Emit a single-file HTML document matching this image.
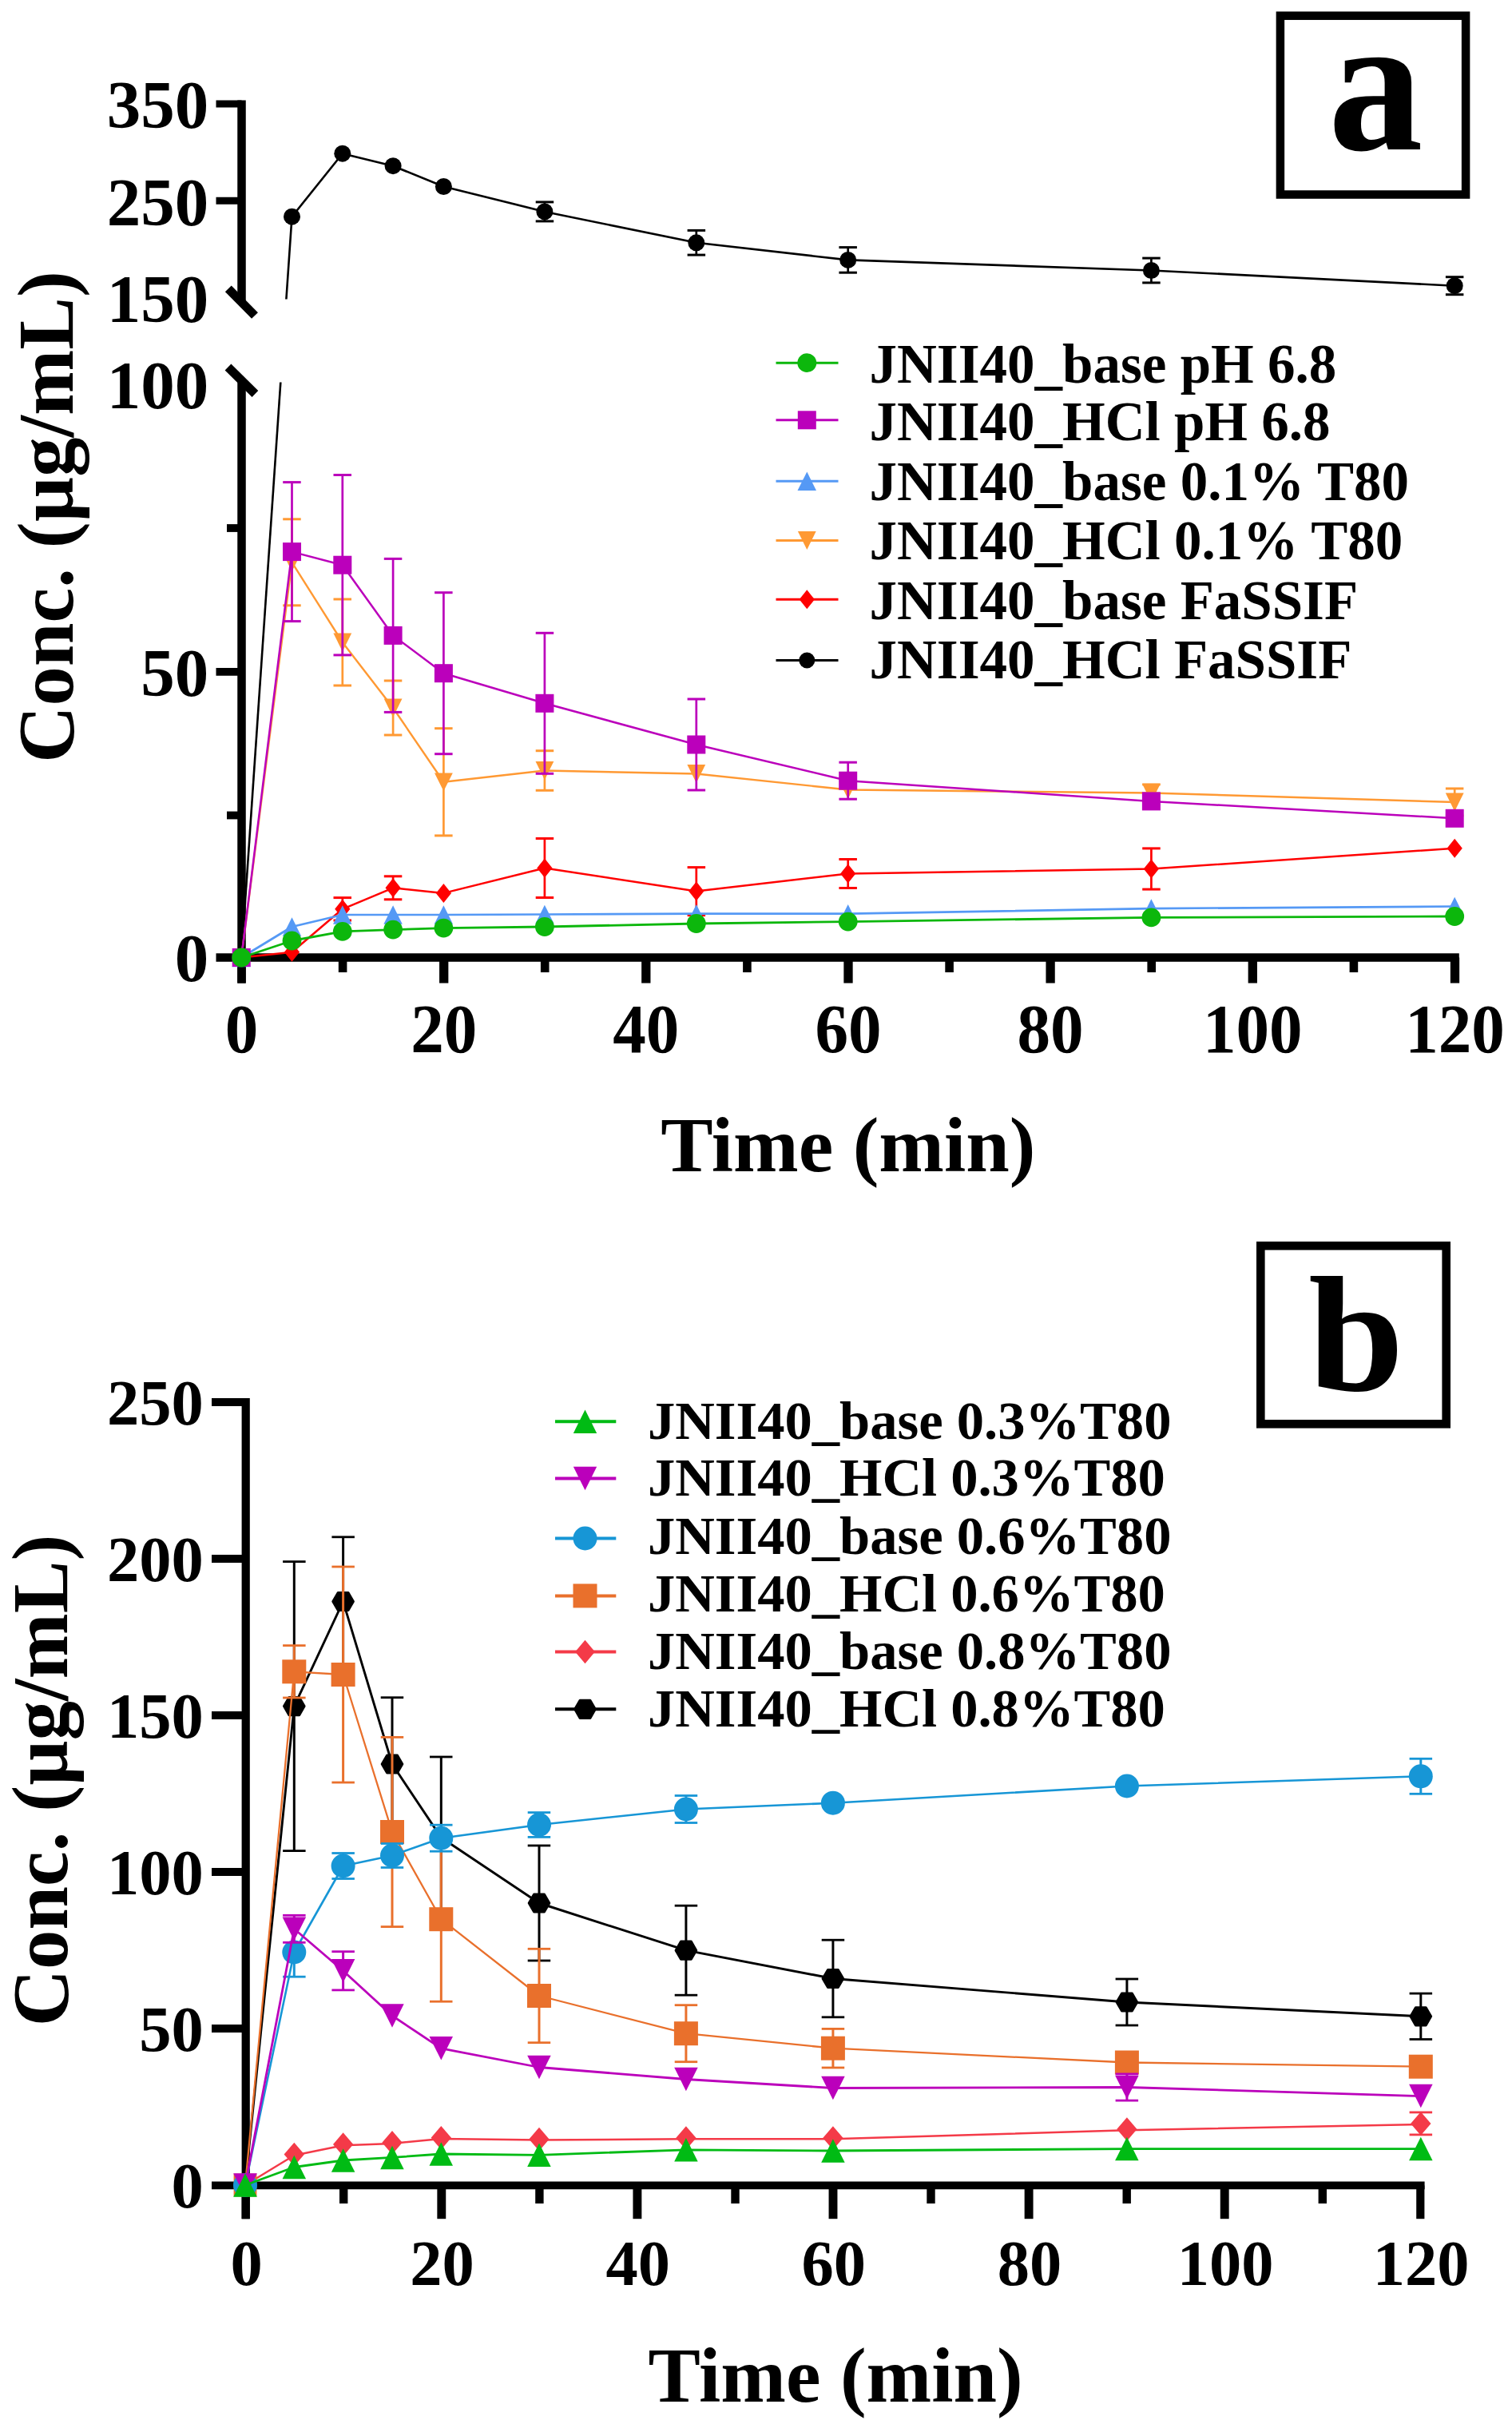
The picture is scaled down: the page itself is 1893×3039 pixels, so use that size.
<!DOCTYPE html>
<html lang="en"><head><meta charset="utf-8"><title>Dissolution profiles</title>
<style>html,body{margin:0;padding:0;background:#fff;overflow:hidden}svg{display:block}</style></head>
<body>
<svg width="1893" height="3039" viewBox="0 0 1893 3039">
<rect width="1893" height="3039" fill="#ffffff"/>
<g id="panelA-axes" stroke="#000" fill="none">
<line x1="302.5" y1="125.5" x2="302.5" y2="377.0" stroke="#000" stroke-width="10.5" />
<line x1="302.5" y1="478.0" x2="302.5" y2="1230.5" stroke="#000" stroke-width="10.5" />
<line x1="285.8" y1="361.3" x2="319.0" y2="395.0" stroke="#000" stroke-width="11" />
<line x1="285.5" y1="459.5" x2="319.4" y2="493.0" stroke="#000" stroke-width="11" />
<line x1="270.5" y1="1198.5" x2="1826.8" y2="1198.5" stroke="#000" stroke-width="10.5" />
<line x1="270.5" y1="130.0" x2="302.5" y2="130.0" stroke="#000" stroke-width="9" />
<line x1="270.5" y1="251.3" x2="302.5" y2="251.3" stroke="#000" stroke-width="9" />
<line x1="270.5" y1="840.8" x2="302.5" y2="840.8" stroke="#000" stroke-width="9.8" />
<line x1="284.0" y1="661.0" x2="302.5" y2="661.0" stroke="#000" stroke-width="9.8" />
<line x1="284.0" y1="1020.5" x2="302.5" y2="1020.5" stroke="#000" stroke-width="9.8" />
<line x1="302.5" y1="1198.5" x2="302.5" y2="1230.5" stroke="#000" stroke-width="10.5" />
<line x1="429.1" y1="1198.5" x2="429.1" y2="1217.0" stroke="#000" stroke-width="10.6" />
<line x1="555.7" y1="1198.5" x2="555.7" y2="1230.5" stroke="#000" stroke-width="11.3" />
<line x1="682.2" y1="1198.5" x2="682.2" y2="1217.0" stroke="#000" stroke-width="10.6" />
<line x1="808.8" y1="1198.5" x2="808.8" y2="1230.5" stroke="#000" stroke-width="11.3" />
<line x1="935.4" y1="1198.5" x2="935.4" y2="1217.0" stroke="#000" stroke-width="10.6" />
<line x1="1062.0" y1="1198.5" x2="1062.0" y2="1230.5" stroke="#000" stroke-width="11.3" />
<line x1="1188.6" y1="1198.5" x2="1188.6" y2="1217.0" stroke="#000" stroke-width="10.6" />
<line x1="1315.1" y1="1198.5" x2="1315.1" y2="1230.5" stroke="#000" stroke-width="11.3" />
<line x1="1441.7" y1="1198.5" x2="1441.7" y2="1217.0" stroke="#000" stroke-width="10.6" />
<line x1="1568.3" y1="1198.5" x2="1568.3" y2="1230.5" stroke="#000" stroke-width="11.3" />
<line x1="1694.9" y1="1198.5" x2="1694.9" y2="1217.0" stroke="#000" stroke-width="10.6" />
<line x1="1821.5" y1="1198.5" x2="1821.5" y2="1230.5" stroke="#000" stroke-width="11.3" />
</g>
<g id="panelA-data">
<polyline points="302.2,1198.5 351.3,478.5" fill="none" stroke="#000000" stroke-width="2.6" stroke-linejoin="round"/>
<polyline points="358.4,374.5 365.5,271.2 428.8,192.2 492.1,207.7 555.4,233.5 681.9,264.9 871.8,303.8 1061.7,325.4 1441.4,338.5 1821.2,357.7" fill="none" stroke="#000000" stroke-width="2.6" stroke-linejoin="round"/>
<line x1="681.9" y1="252.9" x2="681.9" y2="276.9" stroke="#000000" stroke-width="2.7" />
<line x1="670.7" y1="252.9" x2="693.2" y2="252.9" stroke="#000000" stroke-width="3.0" />
<line x1="670.7" y1="276.9" x2="693.2" y2="276.9" stroke="#000000" stroke-width="3.0" />
<line x1="871.8" y1="288.4" x2="871.8" y2="319.1" stroke="#000000" stroke-width="2.7" />
<line x1="860.6" y1="288.4" x2="883.1" y2="288.4" stroke="#000000" stroke-width="3.0" />
<line x1="860.6" y1="319.1" x2="883.1" y2="319.1" stroke="#000000" stroke-width="3.0" />
<line x1="1061.7" y1="309.6" x2="1061.7" y2="341.2" stroke="#000000" stroke-width="2.7" />
<line x1="1050.4" y1="309.6" x2="1072.9" y2="309.6" stroke="#000000" stroke-width="3.0" />
<line x1="1050.4" y1="341.2" x2="1072.9" y2="341.2" stroke="#000000" stroke-width="3.0" />
<line x1="1441.4" y1="323.1" x2="1441.4" y2="353.9" stroke="#000000" stroke-width="2.7" />
<line x1="1430.2" y1="323.1" x2="1452.7" y2="323.1" stroke="#000000" stroke-width="3.0" />
<line x1="1430.2" y1="353.9" x2="1452.7" y2="353.9" stroke="#000000" stroke-width="3.0" />
<line x1="1821.2" y1="346.7" x2="1821.2" y2="368.7" stroke="#000000" stroke-width="2.7" />
<line x1="1809.9" y1="346.7" x2="1832.4" y2="346.7" stroke="#000000" stroke-width="3.0" />
<line x1="1809.9" y1="368.7" x2="1832.4" y2="368.7" stroke="#000000" stroke-width="3.0" />
<circle cx="302.2" cy="1198.5" r="10.5" fill="#000000"/>
<circle cx="365.5" cy="271.2" r="10.5" fill="#000000"/>
<circle cx="428.8" cy="192.2" r="10.5" fill="#000000"/>
<circle cx="492.1" cy="207.7" r="10.5" fill="#000000"/>
<circle cx="555.4" cy="233.5" r="10.5" fill="#000000"/>
<circle cx="681.9" cy="264.9" r="10.5" fill="#000000"/>
<circle cx="871.8" cy="303.8" r="10.5" fill="#000000"/>
<circle cx="1061.7" cy="325.4" r="10.5" fill="#000000"/>
<circle cx="1441.4" cy="338.5" r="10.5" fill="#000000"/>
<circle cx="1821.2" cy="357.7" r="10.5" fill="#000000"/>
<polyline points="302.2,1198.5 365.5,1191.7 428.8,1137.8 492.1,1111.3 555.4,1117.9 681.9,1086.5 871.8,1115.6 1061.7,1093.5 1441.4,1087.5 1821.2,1061.7" fill="none" stroke="#FF0000" stroke-width="2.5" stroke-linejoin="round"/>
<line x1="428.8" y1="1123.6" x2="428.8" y2="1152.0" stroke="#FF0000" stroke-width="2.7" />
<line x1="417.5" y1="1123.6" x2="440.0" y2="1123.6" stroke="#FF0000" stroke-width="3.0" />
<line x1="417.5" y1="1152.0" x2="440.0" y2="1152.0" stroke="#FF0000" stroke-width="3.0" />
<line x1="492.1" y1="1096.8" x2="492.1" y2="1125.8" stroke="#FF0000" stroke-width="2.7" />
<line x1="480.8" y1="1096.8" x2="503.3" y2="1096.8" stroke="#FF0000" stroke-width="3.0" />
<line x1="480.8" y1="1125.8" x2="503.3" y2="1125.8" stroke="#FF0000" stroke-width="3.0" />
<line x1="681.9" y1="1049.5" x2="681.9" y2="1123.5" stroke="#FF0000" stroke-width="2.7" />
<line x1="670.7" y1="1049.5" x2="693.2" y2="1049.5" stroke="#FF0000" stroke-width="3.0" />
<line x1="670.7" y1="1123.5" x2="693.2" y2="1123.5" stroke="#FF0000" stroke-width="3.0" />
<line x1="871.8" y1="1085.6" x2="871.8" y2="1145.6" stroke="#FF0000" stroke-width="2.7" />
<line x1="860.6" y1="1085.6" x2="883.1" y2="1085.6" stroke="#FF0000" stroke-width="3.0" />
<line x1="860.6" y1="1145.6" x2="883.1" y2="1145.6" stroke="#FF0000" stroke-width="3.0" />
<line x1="1061.7" y1="1075.5" x2="1061.7" y2="1111.5" stroke="#FF0000" stroke-width="2.7" />
<line x1="1050.4" y1="1075.5" x2="1072.9" y2="1075.5" stroke="#FF0000" stroke-width="3.0" />
<line x1="1050.4" y1="1111.5" x2="1072.9" y2="1111.5" stroke="#FF0000" stroke-width="3.0" />
<line x1="1441.4" y1="1061.9" x2="1441.4" y2="1113.1" stroke="#FF0000" stroke-width="2.7" />
<line x1="1430.2" y1="1061.9" x2="1452.7" y2="1061.9" stroke="#FF0000" stroke-width="3.0" />
<line x1="1430.2" y1="1113.1" x2="1452.7" y2="1113.1" stroke="#FF0000" stroke-width="3.0" />
<polygon points="302.2,1186.5 311.8,1198.5 302.2,1210.5 292.6,1198.5" fill="#FF0000"/>
<polygon points="365.5,1179.7 375.1,1191.7 365.5,1203.7 355.9,1191.7" fill="#FF0000"/>
<polygon points="428.8,1125.8 438.4,1137.8 428.8,1149.8 419.2,1137.8" fill="#FF0000"/>
<polygon points="492.1,1099.3 501.7,1111.3 492.1,1123.3 482.5,1111.3" fill="#FF0000"/>
<polygon points="555.4,1105.9 565.0,1117.9 555.4,1129.9 545.8,1117.9" fill="#FF0000"/>
<polygon points="681.9,1074.5 691.5,1086.5 681.9,1098.5 672.3,1086.5" fill="#FF0000"/>
<polygon points="871.8,1103.6 881.4,1115.6 871.8,1127.6 862.2,1115.6" fill="#FF0000"/>
<polygon points="1061.7,1081.5 1071.3,1093.5 1061.7,1105.5 1052.1,1093.5" fill="#FF0000"/>
<polygon points="1441.4,1075.5 1451.0,1087.5 1441.4,1099.5 1431.8,1087.5" fill="#FF0000"/>
<polygon points="1821.2,1049.7 1830.8,1061.7 1821.2,1073.7 1811.6,1061.7" fill="#FF0000"/>
<polyline points="302.2,1198.5 365.5,703.8 428.8,804.0 492.1,886.0 555.4,978.8 681.9,964.5 871.8,968.5 1061.7,988.5 1441.4,992.5 1821.2,1004.0" fill="none" stroke="#FF9933" stroke-width="2.4" stroke-linejoin="round"/>
<line x1="365.5" y1="649.8" x2="365.5" y2="757.8" stroke="#FF9933" stroke-width="2.7" />
<line x1="354.2" y1="649.8" x2="376.7" y2="649.8" stroke="#FF9933" stroke-width="3.0" />
<line x1="354.2" y1="757.8" x2="376.7" y2="757.8" stroke="#FF9933" stroke-width="3.0" />
<line x1="428.8" y1="750.0" x2="428.8" y2="858.0" stroke="#FF9933" stroke-width="2.7" />
<line x1="417.5" y1="750.0" x2="440.0" y2="750.0" stroke="#FF9933" stroke-width="3.0" />
<line x1="417.5" y1="858.0" x2="440.0" y2="858.0" stroke="#FF9933" stroke-width="3.0" />
<line x1="492.1" y1="852.0" x2="492.1" y2="920.0" stroke="#FF9933" stroke-width="2.7" />
<line x1="480.8" y1="852.0" x2="503.3" y2="852.0" stroke="#FF9933" stroke-width="3.0" />
<line x1="480.8" y1="920.0" x2="503.3" y2="920.0" stroke="#FF9933" stroke-width="3.0" />
<line x1="555.4" y1="911.7" x2="555.4" y2="1045.9" stroke="#FF9933" stroke-width="2.7" />
<line x1="544.1" y1="911.7" x2="566.6" y2="911.7" stroke="#FF9933" stroke-width="3.0" />
<line x1="544.1" y1="1045.9" x2="566.6" y2="1045.9" stroke="#FF9933" stroke-width="3.0" />
<line x1="681.9" y1="939.7" x2="681.9" y2="989.3" stroke="#FF9933" stroke-width="2.7" />
<line x1="670.7" y1="939.7" x2="693.2" y2="939.7" stroke="#FF9933" stroke-width="3.0" />
<line x1="670.7" y1="989.3" x2="693.2" y2="989.3" stroke="#FF9933" stroke-width="3.0" />
<line x1="1441.4" y1="981.9" x2="1441.4" y2="1003.1" stroke="#FF9933" stroke-width="2.7" />
<line x1="1430.2" y1="981.9" x2="1452.7" y2="981.9" stroke="#FF9933" stroke-width="3.0" />
<line x1="1430.2" y1="1003.1" x2="1452.7" y2="1003.1" stroke="#FF9933" stroke-width="3.0" />
<line x1="1821.2" y1="987.0" x2="1821.2" y2="1021.0" stroke="#FF9933" stroke-width="2.7" />
<line x1="1809.9" y1="987.0" x2="1832.4" y2="987.0" stroke="#FF9933" stroke-width="3.0" />
<line x1="1809.9" y1="1021.0" x2="1832.4" y2="1021.0" stroke="#FF9933" stroke-width="3.0" />
<polygon points="290.8,1187.1 313.6,1187.1 302.2,1209.9" fill="#FF9933"/>
<polygon points="354.1,692.4 376.9,692.4 365.5,715.2" fill="#FF9933"/>
<polygon points="417.4,792.6 440.2,792.6 428.8,815.4" fill="#FF9933"/>
<polygon points="480.7,874.6 503.5,874.6 492.1,897.4" fill="#FF9933"/>
<polygon points="544.0,967.4 566.8,967.4 555.4,990.2" fill="#FF9933"/>
<polygon points="670.5,953.1 693.3,953.1 681.9,975.9" fill="#FF9933"/>
<polygon points="860.4,957.1 883.2,957.1 871.8,979.9" fill="#FF9933"/>
<polygon points="1050.3,977.1 1073.1,977.1 1061.7,999.9" fill="#FF9933"/>
<polygon points="1430.0,981.1 1452.8,981.1 1441.4,1003.9" fill="#FF9933"/>
<polygon points="1809.8,992.6 1832.6,992.6 1821.2,1015.4" fill="#FF9933"/>
<polyline points="302.2,1198.5 365.5,1160.0 428.8,1145.0 492.1,1145.0 555.4,1145.0 681.9,1144.5 871.8,1143.7 1061.7,1143.7 1441.4,1137.1 1821.2,1134.5" fill="none" stroke="#5599F5" stroke-width="2.7" stroke-linejoin="round"/>
<polygon points="302.2,1186.8 313.9,1210.2 290.4,1210.2" fill="#5599F5"/>
<polygon points="365.5,1148.2 377.2,1171.8 353.7,1171.8" fill="#5599F5"/>
<polygon points="428.8,1133.2 440.5,1156.8 417.0,1156.8" fill="#5599F5"/>
<polygon points="492.1,1133.2 503.8,1156.8 480.3,1156.8" fill="#5599F5"/>
<polygon points="555.4,1133.2 567.1,1156.8 543.6,1156.8" fill="#5599F5"/>
<polygon points="681.9,1132.8 693.7,1156.2 670.2,1156.2" fill="#5599F5"/>
<polygon points="871.8,1132.0 883.6,1155.5 860.1,1155.5" fill="#5599F5"/>
<polygon points="1061.7,1132.0 1073.4,1155.5 1049.9,1155.5" fill="#5599F5"/>
<polygon points="1441.4,1125.3 1453.2,1148.8 1429.7,1148.8" fill="#5599F5"/>
<polygon points="1821.2,1122.8 1832.9,1146.2 1809.4,1146.2" fill="#5599F5"/>
<polyline points="302.2,1198.5 365.5,690.6 428.8,707.2 492.1,795.4 555.4,842.7 681.9,880.3 871.8,932.0 1061.7,977.2 1441.4,1002.9 1821.2,1024.3" fill="none" stroke="#BB00BB" stroke-width="2.5" stroke-linejoin="round"/>
<line x1="365.5" y1="603.6" x2="365.5" y2="777.6" stroke="#BB00BB" stroke-width="2.7" />
<line x1="354.2" y1="603.6" x2="376.7" y2="603.6" stroke="#BB00BB" stroke-width="3.0" />
<line x1="354.2" y1="777.6" x2="376.7" y2="777.6" stroke="#BB00BB" stroke-width="3.0" />
<line x1="428.8" y1="594.5" x2="428.8" y2="819.9" stroke="#BB00BB" stroke-width="2.7" />
<line x1="417.5" y1="594.5" x2="440.0" y2="594.5" stroke="#BB00BB" stroke-width="3.0" />
<line x1="417.5" y1="819.9" x2="440.0" y2="819.9" stroke="#BB00BB" stroke-width="3.0" />
<line x1="492.1" y1="699.4" x2="492.1" y2="891.4" stroke="#BB00BB" stroke-width="2.7" />
<line x1="480.8" y1="699.4" x2="503.3" y2="699.4" stroke="#BB00BB" stroke-width="3.0" />
<line x1="480.8" y1="891.4" x2="503.3" y2="891.4" stroke="#BB00BB" stroke-width="3.0" />
<line x1="555.4" y1="741.7" x2="555.4" y2="943.7" stroke="#BB00BB" stroke-width="2.7" />
<line x1="544.1" y1="741.7" x2="566.6" y2="741.7" stroke="#BB00BB" stroke-width="3.0" />
<line x1="544.1" y1="943.7" x2="566.6" y2="943.7" stroke="#BB00BB" stroke-width="3.0" />
<line x1="681.9" y1="792.3" x2="681.9" y2="968.3" stroke="#BB00BB" stroke-width="2.7" />
<line x1="670.7" y1="792.3" x2="693.2" y2="792.3" stroke="#BB00BB" stroke-width="3.0" />
<line x1="670.7" y1="968.3" x2="693.2" y2="968.3" stroke="#BB00BB" stroke-width="3.0" />
<line x1="871.8" y1="875.0" x2="871.8" y2="989.0" stroke="#BB00BB" stroke-width="2.7" />
<line x1="860.6" y1="875.0" x2="883.1" y2="875.0" stroke="#BB00BB" stroke-width="3.0" />
<line x1="860.6" y1="989.0" x2="883.1" y2="989.0" stroke="#BB00BB" stroke-width="3.0" />
<line x1="1061.7" y1="954.2" x2="1061.7" y2="1000.2" stroke="#BB00BB" stroke-width="2.7" />
<line x1="1050.4" y1="954.2" x2="1072.9" y2="954.2" stroke="#BB00BB" stroke-width="3.0" />
<line x1="1050.4" y1="1000.2" x2="1072.9" y2="1000.2" stroke="#BB00BB" stroke-width="3.0" />
<rect x="290.7" y="1187.0" width="23.0" height="23.0" fill="#BB00BB"/>
<rect x="354.0" y="679.1" width="23.0" height="23.0" fill="#BB00BB"/>
<rect x="417.3" y="695.7" width="23.0" height="23.0" fill="#BB00BB"/>
<rect x="480.6" y="783.9" width="23.0" height="23.0" fill="#BB00BB"/>
<rect x="543.9" y="831.2" width="23.0" height="23.0" fill="#BB00BB"/>
<rect x="670.4" y="868.8" width="23.0" height="23.0" fill="#BB00BB"/>
<rect x="860.3" y="920.5" width="23.0" height="23.0" fill="#BB00BB"/>
<rect x="1050.2" y="965.7" width="23.0" height="23.0" fill="#BB00BB"/>
<rect x="1429.9" y="991.4" width="23.0" height="23.0" fill="#BB00BB"/>
<rect x="1809.7" y="1012.8" width="23.0" height="23.0" fill="#BB00BB"/>
<polyline points="302.2,1198.5 365.5,1177.5 428.8,1165.9 492.1,1163.6 555.4,1161.6 681.9,1160.0 871.8,1156.0 1061.7,1153.6 1441.4,1148.4 1821.2,1147.0" fill="none" stroke="#0CB70C" stroke-width="2.8" stroke-linejoin="round"/>
<circle cx="302.2" cy="1198.5" r="11.9" fill="#0CB70C"/>
<circle cx="365.5" cy="1177.5" r="11.9" fill="#0CB70C"/>
<circle cx="428.8" cy="1165.9" r="11.9" fill="#0CB70C"/>
<circle cx="492.1" cy="1163.6" r="11.9" fill="#0CB70C"/>
<circle cx="555.4" cy="1161.6" r="11.9" fill="#0CB70C"/>
<circle cx="681.9" cy="1160.0" r="11.9" fill="#0CB70C"/>
<circle cx="871.8" cy="1156.0" r="11.9" fill="#0CB70C"/>
<circle cx="1061.7" cy="1153.6" r="11.9" fill="#0CB70C"/>
<circle cx="1441.4" cy="1148.4" r="11.9" fill="#0CB70C"/>
<circle cx="1821.2" cy="1147.0" r="11.9" fill="#0CB70C"/>
</g>
<g id="panelA-labels" fill="#000">
<text x="261.3" y="160.3" font-size="85" text-anchor="end" font-family="'Liberation Serif','Times New Roman',Times,serif" font-weight="bold" >350</text>
<text x="261.3" y="281.6" font-size="85" text-anchor="end" font-family="'Liberation Serif','Times New Roman',Times,serif" font-weight="bold" >250</text>
<text x="261.3" y="403.1" font-size="85" text-anchor="end" font-family="'Liberation Serif','Times New Roman',Times,serif" font-weight="bold" >150</text>
<text x="261.3" y="511.3" font-size="85" text-anchor="end" font-family="'Liberation Serif','Times New Roman',Times,serif" font-weight="bold" >100</text>
<text x="261.3" y="871.3" font-size="85" text-anchor="end" font-family="'Liberation Serif','Times New Roman',Times,serif" font-weight="bold" >50</text>
<text x="261.3" y="1228.3" font-size="85" text-anchor="end" font-family="'Liberation Serif','Times New Roman',Times,serif" font-weight="bold" >0</text>
<text transform="translate(302.5,1317) scale(0.978,1.01)" font-size="85" text-anchor="middle" font-family="'Liberation Serif','Times New Roman',Times,serif" font-weight="bold">0</text>
<text transform="translate(555.7,1317) scale(0.978,1.01)" font-size="85" text-anchor="middle" font-family="'Liberation Serif','Times New Roman',Times,serif" font-weight="bold">20</text>
<text transform="translate(808.8,1317) scale(0.978,1.01)" font-size="85" text-anchor="middle" font-family="'Liberation Serif','Times New Roman',Times,serif" font-weight="bold">40</text>
<text transform="translate(1062.0,1317) scale(0.978,1.01)" font-size="85" text-anchor="middle" font-family="'Liberation Serif','Times New Roman',Times,serif" font-weight="bold">60</text>
<text transform="translate(1315.1,1317) scale(0.978,1.01)" font-size="85" text-anchor="middle" font-family="'Liberation Serif','Times New Roman',Times,serif" font-weight="bold">80</text>
<text transform="translate(1568.3,1317) scale(0.978,1.01)" font-size="85" text-anchor="middle" font-family="'Liberation Serif','Times New Roman',Times,serif" font-weight="bold">100</text>
<text transform="translate(1821.5,1317) scale(0.978,1.01)" font-size="85" text-anchor="middle" font-family="'Liberation Serif','Times New Roman',Times,serif" font-weight="bold">120</text>
<text x="1061.8" y="1466.2" font-size="98" text-anchor="middle" font-family="'Liberation Serif','Times New Roman',Times,serif" font-weight="bold" >Time (min)</text>
<text transform="translate(90.5,647) rotate(-90)" font-size="98.6" text-anchor="middle" font-family="'Liberation Serif','Times New Roman',Times,serif" font-weight="bold">Conc. (µg/mL)</text>
</g>
<g id="panelA-legend">
<line x1="971.5" y1="454.2" x2="1049.5" y2="454.2" stroke="#0CB70C" stroke-width="3" />
<circle cx="1010.3" cy="454.2" r="11.9" fill="#0CB70C"/>
<text x="1088.5" y="479.4" font-size="69" text-anchor="start" font-family="'Liberation Serif','Times New Roman',Times,serif" font-weight="bold" fill="#000">JNII40_base pH 6.8</text>
<line x1="971.5" y1="525.8" x2="1049.5" y2="525.8" stroke="#BB00BB" stroke-width="3" />
<rect x="998.8" y="514.3" width="23.0" height="23.0" fill="#BB00BB"/>
<text x="1088.5" y="550.8" font-size="69" text-anchor="start" font-family="'Liberation Serif','Times New Roman',Times,serif" font-weight="bold" fill="#000">JNII40_HCl pH 6.8</text>
<line x1="971.5" y1="602.3" x2="1049.5" y2="602.3" stroke="#5599F5" stroke-width="3" />
<polygon points="1010.3,590.5 1022.0,614.0 998.5,614.0" fill="#5599F5"/>
<text x="1088.5" y="626.2" font-size="69" text-anchor="start" font-family="'Liberation Serif','Times New Roman',Times,serif" font-weight="bold" fill="#000">JNII40_base 0.1% T80</text>
<line x1="971.5" y1="676.5" x2="1049.5" y2="676.5" stroke="#FF9933" stroke-width="3" />
<polygon points="998.9,665.1 1021.7,665.1 1010.3,687.9" fill="#FF9933"/>
<text x="1088.5" y="700.3" font-size="69" text-anchor="start" font-family="'Liberation Serif','Times New Roman',Times,serif" font-weight="bold" fill="#000">JNII40_HCl 0.1% T80</text>
<line x1="971.5" y1="750.3" x2="1049.5" y2="750.3" stroke="#FF0000" stroke-width="3" />
<polygon points="1010.3,738.3 1019.9,750.3 1010.3,762.3 1000.7,750.3" fill="#FF0000"/>
<text x="1088.5" y="774.5" font-size="69" text-anchor="start" font-family="'Liberation Serif','Times New Roman',Times,serif" font-weight="bold" fill="#000">JNII40_base FaSSIF</text>
<line x1="971.5" y1="826.5" x2="1049.5" y2="826.5" stroke="#000000" stroke-width="3" />
<circle cx="1010.3" cy="826.5" r="10.0" fill="#000000"/>
<text x="1088.5" y="848.5" font-size="69" text-anchor="start" font-family="'Liberation Serif','Times New Roman',Times,serif" font-weight="bold" fill="#000">JNII40_HCl FaSSIF</text>
</g>
<rect x="1602.9" y="19.7" width="232.2" height="223.8" fill="none" stroke="#000" stroke-width="10.5"/>
<text transform="translate(1663.1,186.7) scale(0.979,1.0166)" font-size="242" font-family="'Liberation Serif','Times New Roman',Times,serif" font-weight="bold" fill="#000">a</text>
<g id="panelB-axes">
<line x1="307.7" y1="1750.0" x2="307.7" y2="2777.2" stroke="#000" stroke-width="10.2" />
<line x1="265.0" y1="2735.4" x2="1783.6" y2="2735.4" stroke="#000" stroke-width="9.9" />
<line x1="265.0" y1="1755.0" x2="307.7" y2="1755.0" stroke="#000" stroke-width="10" />
<line x1="265.0" y1="1951.0" x2="307.7" y2="1951.0" stroke="#000" stroke-width="10" />
<line x1="265.0" y1="2147.0" x2="307.7" y2="2147.0" stroke="#000" stroke-width="10" />
<line x1="265.0" y1="2343.0" x2="307.7" y2="2343.0" stroke="#000" stroke-width="10" />
<line x1="265.0" y1="2539.0" x2="307.7" y2="2539.0" stroke="#000" stroke-width="10" />
<line x1="307.7" y1="2735.4" x2="307.7" y2="2777.2" stroke="#000" stroke-width="10.2" />
<line x1="430.2" y1="2735.4" x2="430.2" y2="2758.0" stroke="#000" stroke-width="10.4" />
<line x1="552.8" y1="2735.4" x2="552.8" y2="2777.2" stroke="#000" stroke-width="10.9" />
<line x1="675.4" y1="2735.4" x2="675.4" y2="2758.0" stroke="#000" stroke-width="10.4" />
<line x1="797.9" y1="2735.4" x2="797.9" y2="2777.2" stroke="#000" stroke-width="10.9" />
<line x1="920.5" y1="2735.4" x2="920.5" y2="2758.0" stroke="#000" stroke-width="10.4" />
<line x1="1043.0" y1="2735.4" x2="1043.0" y2="2777.2" stroke="#000" stroke-width="10.9" />
<line x1="1165.5" y1="2735.4" x2="1165.5" y2="2758.0" stroke="#000" stroke-width="10.4" />
<line x1="1288.1" y1="2735.4" x2="1288.1" y2="2777.2" stroke="#000" stroke-width="10.9" />
<line x1="1410.7" y1="2735.4" x2="1410.7" y2="2758.0" stroke="#000" stroke-width="10.4" />
<line x1="1533.2" y1="2735.4" x2="1533.2" y2="2777.2" stroke="#000" stroke-width="10.9" />
<line x1="1655.8" y1="2735.4" x2="1655.8" y2="2758.0" stroke="#000" stroke-width="10.4" />
<line x1="1778.3" y1="2735.4" x2="1778.3" y2="2777.2" stroke="#000" stroke-width="10.2" />
</g>
<g id="panelB-data">
<polyline points="307.0,2735.0 368.3,2135.6 429.6,2004.5 491.0,2208.0 552.3,2300.0 675.0,2382.0 858.9,2441.2 1042.9,2476.5 1410.9,2506.0 1778.8,2523.8" fill="none" stroke="#000000" stroke-width="2.9" stroke-linejoin="round"/>
<line x1="368.3" y1="1954.6" x2="368.3" y2="2316.6" stroke="#000000" stroke-width="3.0" />
<line x1="354.1" y1="1954.6" x2="382.6" y2="1954.6" stroke="#000000" stroke-width="2.8" />
<line x1="354.1" y1="2316.6" x2="382.6" y2="2316.6" stroke="#000000" stroke-width="2.8" />
<line x1="429.6" y1="1923.8" x2="429.6" y2="2085.2" stroke="#000000" stroke-width="3.0" />
<line x1="415.4" y1="1923.8" x2="443.9" y2="1923.8" stroke="#000000" stroke-width="2.8" />
<line x1="415.4" y1="2085.2" x2="443.9" y2="2085.2" stroke="#000000" stroke-width="2.8" />
<line x1="491.0" y1="2124.7" x2="491.0" y2="2291.3" stroke="#000000" stroke-width="3.0" />
<line x1="476.7" y1="2124.7" x2="505.2" y2="2124.7" stroke="#000000" stroke-width="2.8" />
<line x1="476.7" y1="2291.3" x2="505.2" y2="2291.3" stroke="#000000" stroke-width="2.8" />
<line x1="552.3" y1="2199.0" x2="552.3" y2="2401.0" stroke="#000000" stroke-width="3.0" />
<line x1="538.0" y1="2199.0" x2="566.5" y2="2199.0" stroke="#000000" stroke-width="2.8" />
<line x1="538.0" y1="2401.0" x2="566.5" y2="2401.0" stroke="#000000" stroke-width="2.8" />
<line x1="675.0" y1="2310.0" x2="675.0" y2="2454.0" stroke="#000000" stroke-width="3.0" />
<line x1="660.7" y1="2310.0" x2="689.2" y2="2310.0" stroke="#000000" stroke-width="2.8" />
<line x1="660.7" y1="2454.0" x2="689.2" y2="2454.0" stroke="#000000" stroke-width="2.8" />
<line x1="858.9" y1="2385.2" x2="858.9" y2="2497.2" stroke="#000000" stroke-width="3.0" />
<line x1="844.7" y1="2385.2" x2="873.2" y2="2385.2" stroke="#000000" stroke-width="2.8" />
<line x1="844.7" y1="2497.2" x2="873.2" y2="2497.2" stroke="#000000" stroke-width="2.8" />
<line x1="1042.9" y1="2428.2" x2="1042.9" y2="2524.8" stroke="#000000" stroke-width="3.0" />
<line x1="1028.7" y1="2428.2" x2="1057.2" y2="2428.2" stroke="#000000" stroke-width="2.8" />
<line x1="1028.7" y1="2524.8" x2="1057.2" y2="2524.8" stroke="#000000" stroke-width="2.8" />
<line x1="1410.9" y1="2477.0" x2="1410.9" y2="2535.0" stroke="#000000" stroke-width="3.0" />
<line x1="1396.6" y1="2477.0" x2="1425.1" y2="2477.0" stroke="#000000" stroke-width="2.8" />
<line x1="1396.6" y1="2535.0" x2="1425.1" y2="2535.0" stroke="#000000" stroke-width="2.8" />
<line x1="1778.8" y1="2495.1" x2="1778.8" y2="2552.5" stroke="#000000" stroke-width="3.0" />
<line x1="1764.6" y1="2495.1" x2="1793.1" y2="2495.1" stroke="#000000" stroke-width="2.8" />
<line x1="1764.6" y1="2552.5" x2="1793.1" y2="2552.5" stroke="#000000" stroke-width="2.8" />
<polygon points="294.2,2735.0 300.6,2723.9 313.4,2723.9 319.8,2735.0 313.4,2746.1 300.6,2746.1" fill="#000000" stroke="#000000" stroke-width="3" stroke-linejoin="round"/>
<polygon points="355.5,2135.6 361.9,2124.5 374.7,2124.5 381.1,2135.6 374.7,2146.7 361.9,2146.7" fill="#000000" stroke="#000000" stroke-width="3" stroke-linejoin="round"/>
<polygon points="416.8,2004.5 423.2,1993.4 436.0,1993.4 442.4,2004.5 436.0,2015.6 423.2,2015.6" fill="#000000" stroke="#000000" stroke-width="3" stroke-linejoin="round"/>
<polygon points="478.2,2208.0 484.6,2196.9 497.4,2196.9 503.8,2208.0 497.4,2219.1 484.6,2219.1" fill="#000000" stroke="#000000" stroke-width="3" stroke-linejoin="round"/>
<polygon points="539.5,2300.0 545.9,2288.9 558.7,2288.9 565.1,2300.0 558.7,2311.1 545.9,2311.1" fill="#000000" stroke="#000000" stroke-width="3" stroke-linejoin="round"/>
<polygon points="662.2,2382.0 668.6,2370.9 681.4,2370.9 687.8,2382.0 681.4,2393.1 668.6,2393.1" fill="#000000" stroke="#000000" stroke-width="3" stroke-linejoin="round"/>
<polygon points="846.1,2441.2 852.5,2430.1 865.3,2430.1 871.7,2441.2 865.3,2452.3 852.5,2452.3" fill="#000000" stroke="#000000" stroke-width="3" stroke-linejoin="round"/>
<polygon points="1030.1,2476.5 1036.5,2465.4 1049.3,2465.4 1055.7,2476.5 1049.3,2487.6 1036.5,2487.6" fill="#000000" stroke="#000000" stroke-width="3" stroke-linejoin="round"/>
<polygon points="1398.1,2506.0 1404.5,2494.9 1417.3,2494.9 1423.7,2506.0 1417.3,2517.1 1404.5,2517.1" fill="#000000" stroke="#000000" stroke-width="3" stroke-linejoin="round"/>
<polygon points="1766.0,2523.8 1772.4,2512.7 1785.2,2512.7 1791.6,2523.8 1785.2,2534.9 1772.4,2534.9" fill="#000000" stroke="#000000" stroke-width="3" stroke-linejoin="round"/>
<polyline points="307.0,2735.0 368.3,2697.8 429.6,2685.2 491.0,2682.9 552.3,2677.0 675.0,2678.6 858.9,2677.3 1042.9,2677.3 1410.9,2666.2 1778.8,2659.1" fill="none" stroke="#F43A48" stroke-width="2.5" stroke-linejoin="round"/>
<line x1="1778.8" y1="2643.9" x2="1778.8" y2="2671.9" stroke="#F43A48" stroke-width="3.0" />
<line x1="1764.6" y1="2643.9" x2="1793.1" y2="2643.9" stroke="#F43A48" stroke-width="2.8" />
<line x1="1764.6" y1="2671.9" x2="1793.1" y2="2671.9" stroke="#F43A48" stroke-width="2.8" />
<polygon points="307.0,2720.2 319.7,2735.0 307.0,2749.8 294.3,2735.0" fill="#F43A48"/>
<polygon points="368.3,2681.8 381.0,2696.6 368.3,2711.3 355.6,2696.6" fill="#F43A48"/>
<polygon points="429.6,2669.2 442.3,2684.0 429.6,2698.8 417.0,2684.0" fill="#F43A48"/>
<polygon points="491.0,2666.9 503.7,2681.7 491.0,2696.4 478.3,2681.7" fill="#F43A48"/>
<polygon points="552.3,2661.1 565.0,2675.8 552.3,2690.6 539.6,2675.8" fill="#F43A48"/>
<polygon points="675.0,2662.7 687.6,2677.4 675.0,2692.2 662.3,2677.4" fill="#F43A48"/>
<polygon points="858.9,2661.3 871.6,2676.1 858.9,2690.8 846.2,2676.1" fill="#F43A48"/>
<polygon points="1042.9,2661.3 1055.6,2676.1 1042.9,2690.8 1030.2,2676.1" fill="#F43A48"/>
<polygon points="1410.9,2650.2 1423.5,2665.0 1410.9,2679.8 1398.2,2665.0" fill="#F43A48"/>
<polygon points="1778.8,2643.2 1791.5,2657.9 1778.8,2672.7 1766.1,2657.9" fill="#F43A48"/>
<polyline points="307.0,2735.0 368.3,2092.3 429.6,2096.0 491.0,2293.0 552.3,2402.2 675.0,2498.0 858.9,2545.2 1042.9,2563.7 1410.9,2581.5 1778.8,2586.7" fill="none" stroke="#E9702C" stroke-width="2.3" stroke-linejoin="round"/>
<line x1="368.3" y1="2059.6" x2="368.3" y2="2125.0" stroke="#E9702C" stroke-width="3.0" />
<line x1="354.1" y1="2059.6" x2="382.6" y2="2059.6" stroke="#E9702C" stroke-width="2.8" />
<line x1="354.1" y1="2125.0" x2="382.6" y2="2125.0" stroke="#E9702C" stroke-width="2.8" />
<line x1="429.6" y1="1961.0" x2="429.6" y2="2231.0" stroke="#E9702C" stroke-width="3.0" />
<line x1="415.4" y1="1961.0" x2="443.9" y2="1961.0" stroke="#E9702C" stroke-width="2.8" />
<line x1="415.4" y1="2231.0" x2="443.9" y2="2231.0" stroke="#E9702C" stroke-width="2.8" />
<line x1="491.0" y1="2174.4" x2="491.0" y2="2411.6" stroke="#E9702C" stroke-width="3.0" />
<line x1="476.7" y1="2174.4" x2="505.2" y2="2174.4" stroke="#E9702C" stroke-width="2.8" />
<line x1="476.7" y1="2411.6" x2="505.2" y2="2411.6" stroke="#E9702C" stroke-width="2.8" />
<line x1="552.3" y1="2299.2" x2="552.3" y2="2505.2" stroke="#E9702C" stroke-width="3.0" />
<line x1="538.0" y1="2299.2" x2="566.5" y2="2299.2" stroke="#E9702C" stroke-width="2.8" />
<line x1="538.0" y1="2505.2" x2="566.5" y2="2505.2" stroke="#E9702C" stroke-width="2.8" />
<line x1="675.0" y1="2439.3" x2="675.0" y2="2556.7" stroke="#E9702C" stroke-width="3.0" />
<line x1="660.7" y1="2439.3" x2="689.2" y2="2439.3" stroke="#E9702C" stroke-width="2.8" />
<line x1="660.7" y1="2556.7" x2="689.2" y2="2556.7" stroke="#E9702C" stroke-width="2.8" />
<line x1="858.9" y1="2509.7" x2="858.9" y2="2580.7" stroke="#E9702C" stroke-width="3.0" />
<line x1="844.7" y1="2509.7" x2="873.2" y2="2509.7" stroke="#E9702C" stroke-width="2.8" />
<line x1="844.7" y1="2580.7" x2="873.2" y2="2580.7" stroke="#E9702C" stroke-width="2.8" />
<line x1="1042.9" y1="2539.4" x2="1042.9" y2="2588.0" stroke="#E9702C" stroke-width="3.0" />
<line x1="1028.7" y1="2539.4" x2="1057.2" y2="2539.4" stroke="#E9702C" stroke-width="2.8" />
<line x1="1028.7" y1="2588.0" x2="1057.2" y2="2588.0" stroke="#E9702C" stroke-width="2.8" />
<rect x="292.6" y="2720.6" width="28.8" height="28.8" fill="#E9702C"/>
<rect x="353.3" y="2077.3" width="30.0" height="30.0" fill="#E9702C"/>
<rect x="414.6" y="2081.0" width="30.0" height="30.0" fill="#E9702C"/>
<rect x="476.0" y="2278.0" width="30.0" height="30.0" fill="#E9702C"/>
<rect x="537.3" y="2387.2" width="30.0" height="30.0" fill="#E9702C"/>
<rect x="660.0" y="2483.0" width="30.0" height="30.0" fill="#E9702C"/>
<rect x="843.9" y="2530.2" width="30.0" height="30.0" fill="#E9702C"/>
<rect x="1027.9" y="2548.7" width="30.0" height="30.0" fill="#E9702C"/>
<rect x="1395.9" y="2566.5" width="30.0" height="30.0" fill="#E9702C"/>
<rect x="1763.8" y="2571.7" width="30.0" height="30.0" fill="#E9702C"/>
<polyline points="307.0,2735.0 368.3,2443.5 429.6,2335.5 491.0,2322.5 552.3,2300.7 675.0,2284.0 858.9,2264.5 1042.9,2256.7 1410.9,2235.5 1778.8,2223.3" fill="none" stroke="#1796D6" stroke-width="2.6" stroke-linejoin="round"/>
<line x1="368.3" y1="2443.5" x2="368.3" y2="2474.2" stroke="#1796D6" stroke-width="3.0" />
<line x1="354.1" y1="2474.2" x2="382.6" y2="2474.2" stroke="#1796D6" stroke-width="2.8" />
<line x1="429.6" y1="2319.5" x2="429.6" y2="2351.5" stroke="#1796D6" stroke-width="3.0" />
<line x1="415.4" y1="2319.5" x2="443.9" y2="2319.5" stroke="#1796D6" stroke-width="2.8" />
<line x1="415.4" y1="2351.5" x2="443.9" y2="2351.5" stroke="#1796D6" stroke-width="2.8" />
<line x1="491.0" y1="2307.5" x2="491.0" y2="2337.5" stroke="#1796D6" stroke-width="3.0" />
<line x1="476.7" y1="2307.5" x2="505.2" y2="2307.5" stroke="#1796D6" stroke-width="2.8" />
<line x1="476.7" y1="2337.5" x2="505.2" y2="2337.5" stroke="#1796D6" stroke-width="2.8" />
<line x1="552.3" y1="2284.2" x2="552.3" y2="2317.2" stroke="#1796D6" stroke-width="3.0" />
<line x1="538.0" y1="2284.2" x2="566.5" y2="2284.2" stroke="#1796D6" stroke-width="2.8" />
<line x1="538.0" y1="2317.2" x2="566.5" y2="2317.2" stroke="#1796D6" stroke-width="2.8" />
<line x1="675.0" y1="2268.6" x2="675.0" y2="2299.4" stroke="#1796D6" stroke-width="3.0" />
<line x1="660.7" y1="2268.6" x2="689.2" y2="2268.6" stroke="#1796D6" stroke-width="2.8" />
<line x1="660.7" y1="2299.4" x2="689.2" y2="2299.4" stroke="#1796D6" stroke-width="2.8" />
<line x1="858.9" y1="2247.5" x2="858.9" y2="2281.5" stroke="#1796D6" stroke-width="3.0" />
<line x1="844.7" y1="2247.5" x2="873.2" y2="2247.5" stroke="#1796D6" stroke-width="2.8" />
<line x1="844.7" y1="2281.5" x2="873.2" y2="2281.5" stroke="#1796D6" stroke-width="2.8" />
<line x1="1778.8" y1="2201.3" x2="1778.8" y2="2245.3" stroke="#1796D6" stroke-width="3.0" />
<line x1="1764.6" y1="2201.3" x2="1793.1" y2="2201.3" stroke="#1796D6" stroke-width="2.8" />
<line x1="1764.6" y1="2245.3" x2="1793.1" y2="2245.3" stroke="#1796D6" stroke-width="2.8" />
<circle cx="307.0" cy="2735.0" r="15.0" fill="#1796D6"/>
<circle cx="368.3" cy="2443.5" r="15.0" fill="#1796D6"/>
<circle cx="429.6" cy="2335.5" r="15.0" fill="#1796D6"/>
<circle cx="491.0" cy="2322.5" r="15.0" fill="#1796D6"/>
<circle cx="552.3" cy="2300.7" r="15.0" fill="#1796D6"/>
<circle cx="675.0" cy="2284.0" r="15.0" fill="#1796D6"/>
<circle cx="858.9" cy="2264.5" r="15.0" fill="#1796D6"/>
<circle cx="1042.9" cy="2256.7" r="15.0" fill="#1796D6"/>
<circle cx="1410.9" cy="2235.5" r="15.0" fill="#1796D6"/>
<circle cx="1778.8" cy="2223.3" r="15.0" fill="#1796D6"/>
<polyline points="307.0,2735.0 368.3,2414.3 429.6,2466.8 491.0,2523.0 552.3,2563.8 675.0,2587.5 858.9,2602.5 1042.9,2613.5 1410.9,2612.5 1778.8,2623.6" fill="none" stroke="#BB00BB" stroke-width="2.8" stroke-linejoin="round"/>
<line x1="368.3" y1="2397.3" x2="368.3" y2="2431.3" stroke="#BB00BB" stroke-width="3.0" />
<line x1="354.1" y1="2397.3" x2="382.6" y2="2397.3" stroke="#BB00BB" stroke-width="2.8" />
<line x1="354.1" y1="2431.3" x2="382.6" y2="2431.3" stroke="#BB00BB" stroke-width="2.8" />
<line x1="429.6" y1="2442.7" x2="429.6" y2="2490.9" stroke="#BB00BB" stroke-width="3.0" />
<line x1="415.4" y1="2442.7" x2="443.9" y2="2442.7" stroke="#BB00BB" stroke-width="2.8" />
<line x1="415.4" y1="2490.9" x2="443.9" y2="2490.9" stroke="#BB00BB" stroke-width="2.8" />
<line x1="1410.9" y1="2595.9" x2="1410.9" y2="2629.1" stroke="#BB00BB" stroke-width="3.0" />
<line x1="1396.6" y1="2595.9" x2="1425.1" y2="2595.9" stroke="#BB00BB" stroke-width="2.8" />
<line x1="1396.6" y1="2629.1" x2="1425.1" y2="2629.1" stroke="#BB00BB" stroke-width="2.8" />
<polygon points="292.2,2720.2 321.8,2720.2 307.0,2749.8" fill="#BB00BB"/>
<polygon points="353.6,2399.6 383.1,2399.6 368.3,2429.1" fill="#BB00BB"/>
<polygon points="414.9,2452.1 444.4,2452.1 429.6,2481.6" fill="#BB00BB"/>
<polygon points="476.2,2508.2 505.7,2508.2 491.0,2537.8" fill="#BB00BB"/>
<polygon points="537.5,2549.1 567.0,2549.1 552.3,2578.6" fill="#BB00BB"/>
<polygon points="660.2,2572.8 689.7,2572.8 675.0,2602.2" fill="#BB00BB"/>
<polygon points="844.2,2587.8 873.7,2587.8 858.9,2617.2" fill="#BB00BB"/>
<polygon points="1028.2,2598.8 1057.7,2598.8 1042.9,2628.2" fill="#BB00BB"/>
<polygon points="1396.1,2597.8 1425.6,2597.8 1410.9,2627.2" fill="#BB00BB"/>
<polygon points="1764.1,2608.8 1793.6,2608.8 1778.8,2638.3" fill="#BB00BB"/>
<polyline points="307.0,2735.0 368.3,2712.5 429.6,2704.0 491.0,2700.4 552.3,2696.0 675.0,2697.3 858.9,2690.8 1042.9,2692.0 1410.9,2689.6 1778.8,2689.6" fill="none" stroke="#00BB14" stroke-width="2.8" stroke-linejoin="round"/>
<polygon points="307.0,2720.2 321.8,2749.8 292.2,2749.8" fill="#00BB14"/>
<polygon points="368.3,2697.8 383.1,2727.2 353.6,2727.2" fill="#00BB14"/>
<polygon points="429.6,2689.2 444.4,2718.8 414.9,2718.8" fill="#00BB14"/>
<polygon points="491.0,2685.7 505.7,2715.2 476.2,2715.2" fill="#00BB14"/>
<polygon points="552.3,2681.2 567.0,2710.8 537.5,2710.8" fill="#00BB14"/>
<polygon points="675.0,2682.6 689.7,2712.1 660.2,2712.1" fill="#00BB14"/>
<polygon points="858.9,2676.1 873.7,2705.6 844.2,2705.6" fill="#00BB14"/>
<polygon points="1042.9,2677.2 1057.7,2706.8 1028.2,2706.8" fill="#00BB14"/>
<polygon points="1410.9,2674.8 1425.6,2704.3 1396.1,2704.3" fill="#00BB14"/>
<polygon points="1778.8,2674.8 1793.6,2704.3 1764.1,2704.3" fill="#00BB14"/>
</g>
<g id="panelB-labels" fill="#000">
<text x="254.7" y="1783.3" font-size="80.5" text-anchor="end" font-family="'Liberation Serif','Times New Roman',Times,serif" font-weight="bold" >250</text>
<text x="254.7" y="1979.3" font-size="80.5" text-anchor="end" font-family="'Liberation Serif','Times New Roman',Times,serif" font-weight="bold" >200</text>
<text x="254.7" y="2175.3" font-size="80.5" text-anchor="end" font-family="'Liberation Serif','Times New Roman',Times,serif" font-weight="bold" >150</text>
<text x="254.7" y="2371.3" font-size="80.5" text-anchor="end" font-family="'Liberation Serif','Times New Roman',Times,serif" font-weight="bold" >100</text>
<text x="254.7" y="2567.3" font-size="80.5" text-anchor="end" font-family="'Liberation Serif','Times New Roman',Times,serif" font-weight="bold" >50</text>
<text x="254.7" y="2763.3" font-size="80.5" text-anchor="end" font-family="'Liberation Serif','Times New Roman',Times,serif" font-weight="bold" >0</text>
<text x="308.5" y="2859.5" font-size="80.5" text-anchor="middle" font-family="'Liberation Serif','Times New Roman',Times,serif" font-weight="bold" >0</text>
<text x="553.6" y="2859.5" font-size="80.5" text-anchor="middle" font-family="'Liberation Serif','Times New Roman',Times,serif" font-weight="bold" >20</text>
<text x="798.7" y="2859.5" font-size="80.5" text-anchor="middle" font-family="'Liberation Serif','Times New Roman',Times,serif" font-weight="bold" >40</text>
<text x="1043.8" y="2859.5" font-size="80.5" text-anchor="middle" font-family="'Liberation Serif','Times New Roman',Times,serif" font-weight="bold" >60</text>
<text x="1288.9" y="2859.5" font-size="80.5" text-anchor="middle" font-family="'Liberation Serif','Times New Roman',Times,serif" font-weight="bold" >80</text>
<text x="1534.0" y="2859.5" font-size="80.5" text-anchor="middle" font-family="'Liberation Serif','Times New Roman',Times,serif" font-weight="bold" >100</text>
<text x="1779.1" y="2859.5" font-size="80.5" text-anchor="middle" font-family="'Liberation Serif','Times New Roman',Times,serif" font-weight="bold" >120</text>
<text x="1046.0" y="3005.6" font-size="98" text-anchor="middle" font-family="'Liberation Serif','Times New Roman',Times,serif" font-weight="bold" >Time (min)</text>
<text transform="translate(83.7,2228.5) rotate(-90)" font-size="98.6" text-anchor="middle" font-family="'Liberation Serif','Times New Roman',Times,serif" font-weight="bold">Conc. (µg/mL)</text>
</g>
<g id="panelB-legend">
<line x1="695.0" y1="1779.3" x2="771.3" y2="1779.3" stroke="#00BB14" stroke-width="4" />
<polygon points="732.5,1764.5 747.2,1794.0 717.8,1794.0" fill="#00BB14"/>
<text transform="translate(811,1800.5) scale(1.027,1)" font-size="66.8" font-family="'Liberation Serif','Times New Roman',Times,serif" font-weight="bold" fill="#000">JNII40_base 0.3%T80</text>
<line x1="695.0" y1="1850.4" x2="771.3" y2="1850.4" stroke="#BB00BB" stroke-width="4" />
<polygon points="717.8,1835.7 747.2,1835.7 732.5,1865.2" fill="#BB00BB"/>
<text transform="translate(811,1872.3) scale(1.027,1)" font-size="66.8" font-family="'Liberation Serif','Times New Roman',Times,serif" font-weight="bold" fill="#000">JNII40_HCl 0.3%T80</text>
<line x1="695.0" y1="1925.5" x2="771.3" y2="1925.5" stroke="#1796D6" stroke-width="4" />
<circle cx="732.5" cy="1925.5" r="15.0" fill="#1796D6"/>
<text transform="translate(811,1945.4) scale(1.027,1)" font-size="66.8" font-family="'Liberation Serif','Times New Roman',Times,serif" font-weight="bold" fill="#000">JNII40_base 0.6%T80</text>
<line x1="695.0" y1="1997.4" x2="771.3" y2="1997.4" stroke="#E9702C" stroke-width="4" />
<rect x="717.5" y="1982.4" width="30.0" height="30.0" fill="#E9702C"/>
<text transform="translate(811,2017.4) scale(1.027,1)" font-size="66.8" font-family="'Liberation Serif','Times New Roman',Times,serif" font-weight="bold" fill="#000">JNII40_HCl 0.6%T80</text>
<line x1="695.0" y1="2067.4" x2="771.3" y2="2067.4" stroke="#F43A48" stroke-width="4" />
<polygon points="732.5,2052.7 744.9,2067.4 732.5,2082.2 720.1,2067.4" fill="#F43A48"/>
<text transform="translate(811,2088.8) scale(1.027,1)" font-size="66.8" font-family="'Liberation Serif','Times New Roman',Times,serif" font-weight="bold" fill="#000">JNII40_base 0.8%T80</text>
<line x1="695.0" y1="2139.3" x2="771.3" y2="2139.3" stroke="#000000" stroke-width="4" />
<polygon points="719.7,2139.3 726.1,2128.2 738.9,2128.2 745.3,2139.3 738.9,2150.4 726.1,2150.4" fill="#000000" stroke="#000000" stroke-width="3" stroke-linejoin="round"/>
<text transform="translate(811,2160.6) scale(1.027,1)" font-size="66.8" font-family="'Liberation Serif','Times New Roman',Times,serif" font-weight="bold" fill="#000">JNII40_HCl 0.8%T80</text>
</g>
<rect x="1578.3" y="1559.3" width="232.4" height="223" fill="none" stroke="#000" stroke-width="10.6"/>
<text transform="translate(1638.1,1739.6) scale(1.0246,0.982)" font-size="210" font-family="'Liberation Serif','Times New Roman',Times,serif" font-weight="bold" fill="#000">b</text>
</svg>
</body></html>
